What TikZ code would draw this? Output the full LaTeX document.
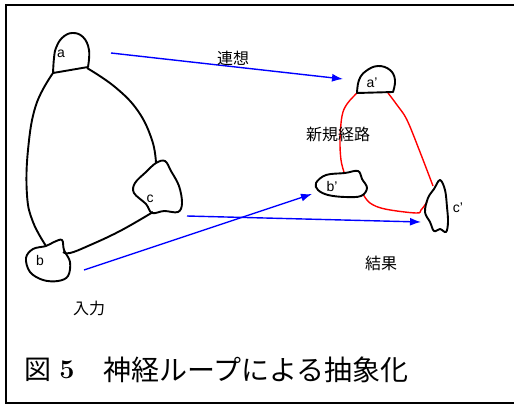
\documentclass[tikz,border=0pt]{standalone}
\usepackage{fontspec}
\setmainfont{Liberation Sans}
\newfontfamily\jp{Noto Sans CJK JP}
\usetikzlibrary{arrows.meta}
\tikzset{
  blob/.style={draw=black, line width=1.9pt, line join=round},
  loopline/.style={draw=black, line width=1.9pt},
  newpath/.style={draw=red, line width=1.4pt},
  assoc/.style={draw=blue, line width=1.4pt, -{Latex[length=11pt,width=8pt]}},
  lbl/.style={font=\fontsize{14}{16}\selectfont, inner sep=0pt},
  jlbl/.style={font=\jp\fontsize{16}{18}\selectfont, inner sep=0pt},
}
\begin{document}
\begin{tikzpicture}[x=1pt,y=-1pt]
\useasboundingbox (0,0) rectangle (514,405);
% frame
\draw[line width=2pt] (520,5) -- (6,5) -- (6,403) -- (520,403);
% left network
\draw[loopline] plot[smooth, tension=0.7] coordinates {(53,73) (36,105) (28,150) (27,195) (33,222) (46,246)};
\draw[loopline] plot[smooth, tension=0.7] coordinates {(87,68) (115,87) (138,111) (152,140) (156,163)};
\draw[loopline] plot[smooth, tension=0.7] coordinates {(153,212) (120,231) (88,246) (70,253) (63,252)};
% blob a
\draw[blob] plot[smooth, tension=0.7] coordinates {(88,67) (89,50) (83,37) (72,33) (62,38) (56,48) (54,58) (53,73)} -- cycle;
% blob c
\draw[blob] plot[smooth cycle, tension=0.6] coordinates {(156,163) (165,161) (171,171) (179,186) (182,203) (178,212) (164,211) (152,213) (146,204) (134,193) (135,183) (146,172)};
% blob b
\draw[blob] plot[smooth cycle, tension=0.6] coordinates {(46,246) (54,242) (62,240) (64,250) (70,262) (68,276) (58,281) (43,280) (30,272) (26,258) (33,249)};
% right network: red paths
\draw[newpath] plot[smooth, tension=0.6] coordinates {(357,93) (347,104) (342,116) (340,140) (341,160) (344,172)};
\draw[newpath] plot[smooth, tension=0.6] coordinates {(388,93) (397,105) (407,120) (420,152) (433,186)};
\draw[newpath] plot[smooth, tension=0.6] coordinates {(363,194) (370,203) (385,209) (416,213) (421,210) (427,202)};
% blob a'
\draw[blob] plot[smooth, tension=0.7] coordinates {(393,92) (395,80) (390,70) (378,66) (366,71) (359,80) (357,93)} -- cycle;
% blob b'
\draw[blob] plot[smooth cycle, tension=0.6] coordinates {(316,183) (326,175) (345,173) (358,171) (362,179) (367,188) (361,196) (345,197) (328,195) (318,190)};
% blob c'
\draw[blob] plot[smooth cycle, tension=0.6] coordinates {(440,180) (445,190) (447,207) (448,222) (446,232) (440,229) (434,231) (430,222) (425,212) (428,198) (434,189)};
% endpoints
\coordinate (s1) at (111,53); \coordinate (t1) at (343,79);
\coordinate (s2) at (84,270); \coordinate (t2) at (312,194);
\coordinate (s3) at (187,216); \coordinate (t3) at (421,222);
\draw[assoc] (s1) -- (t1);
\draw[assoc] (s2) -- (t2);
\draw[assoc] (s3) -- (t3);
% labels
\node[lbl] (la) at (61,54) {a};
\node[lbl] (lb) at (40,260) {b};
\node[lbl] (lc) at (150,199) {c};
\node[lbl] (la2) at (372,83) {a’};
\node[lbl] (lb2) at (332,186) {b’};
\node[lbl] (lc2) at (458,208) {c’};
\node[jlbl] (assocl) at (233,58) {連想};
\node[jlbl] (newl) at (338,134) {新規経路};
\node[jlbl] (resl) at (381,263) {結果};
\node[jlbl] (inl) at (89,308) {入力};
% caption
\node[font=\jp\fontsize{27}{30}\selectfont, inner sep=0pt, anchor=west] (fig) at (24,370) {図};
\node[inner sep=0pt] (num) at (67,370) {\fontspec{Latin Modern Roman}\bfseries\fontsize{27}{30}\selectfont 5};
\node[font=\jp\fontsize{28}{30}\selectfont, inner sep=0pt, anchor=west] (capt) at (103,370) {神経ループによる抽象化};
\end{tikzpicture}
\end{document}
